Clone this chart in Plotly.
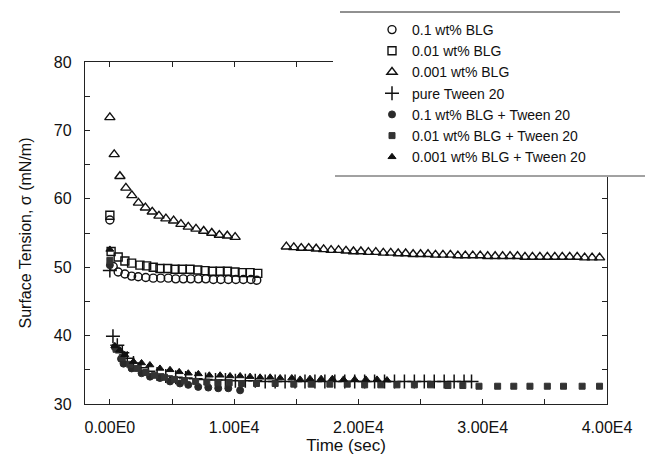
import plotly.graph_objects as go

# ---------------- data ----------------
t_blg01 = [0, 270, 670, 1210, 1750, 2280, 2890, 3490, 4090, 4700, 5300, 5910, 6510,
           7120, 7720, 8330, 8930, 9530, 10140, 10740, 11350, 11820]
s_blg01 = [56.9, 50.1, 49.3, 49.0, 48.7, 48.6, 48.5, 48.4, 48.4, 48.4, 48.3, 48.3,
           48.3, 48.3, 48.3, 48.2, 48.2, 48.2, 48.2, 48.2, 48.2, 48.1]

t_blg001 = [0, 100, 670, 1210, 1750, 2420, 2960, 3490, 4030, 4650, 5240, 5830, 6450,
            7070, 7660, 8250, 8870, 9460, 10070, 10660, 11280, 11900]
s_blg001 = [57.6, 52.3, 51.5, 50.9, 50.6, 50.3, 50.2, 50.0, 49.8, 49.8, 49.7, 49.7,
            49.7, 49.6, 49.5, 49.4, 49.4, 49.4, 49.3, 49.2, 49.2, 49.1]

t_blg0001 = [0, 350, 810, 1290, 1770, 2300, 2860, 3410, 3950, 4510, 5130, 5720, 6310,
             6930, 7550, 8200, 8810, 9450, 10080,
             14200, 14800, 15400, 16000, 16600, 17200, 17800, 18400, 19000, 19600,
             20200, 20800, 21400, 22000, 22600, 23200, 23800, 24400, 25000, 25600,
             26200, 26800, 27400, 28000, 28600, 29200, 29800, 30400, 31000, 31600,
             32200, 32800, 33400, 34000, 34600, 35200, 35800, 36400, 37000, 37600,
             38200, 38800, 39400]
s_blg0001 = [71.9, 66.5, 63.3, 61.6, 60.5, 59.4, 58.7, 58.1, 57.5, 57.1, 56.8, 56.3,
             55.9, 55.6, 55.3, 55.0, 54.7, 54.6, 54.4,
             53.0, 52.9, 52.8, 52.8, 52.7, 52.6, 52.5, 52.5, 52.4, 52.3, 52.3, 52.2,
             52.2, 52.1, 52.1, 52.0, 52.0, 51.9, 51.9, 51.9, 51.8, 51.8, 51.8, 51.7,
             51.7, 51.7, 51.7, 51.6, 51.6, 51.6, 51.6, 51.6, 51.5, 51.5, 51.5, 51.5,
             51.5, 51.5, 51.5, 51.5, 51.4, 51.4, 51.4]

t_tween = [0, 250, 600, 1000, 1400, 1900, 2500, 3100, 3800, 4500, 5300, 6100, 6900,
           7700, 8500, 9300, 10100, 10900, 11700, 12500, 13300, 14100, 14900, 15700,
           16500, 17300, 18100, 18900, 19700, 20500, 21300, 22100, 22900, 23700,
           24500, 25300, 26100, 26900, 27700, 28500, 29100]
s_tween = [49.5, 39.9, 38.6, 37.5, 36.7, 36.0, 35.3, 34.8, 34.4, 34.1, 33.9, 33.8,
           33.7, 33.6, 33.5, 33.5, 33.4, 33.4, 33.4, 33.3, 33.3, 33.3, 33.3, 33.3,
           33.3, 33.3, 33.3, 33.3, 33.3, 33.3, 33.3, 33.3, 33.3, 33.3, 33.3, 33.3,
           33.3, 33.3, 33.3, 33.3, 33.3]

t_mix01 = [0, 400, 900, 1100, 1750, 2550, 3230, 4030, 4840, 5640, 6310, 7110, 7920,
           8720, 9530, 10480]
s_mix01 = [50.3, 38.3, 36.6, 35.9, 35.2, 34.5, 34.0, 33.8, 33.3, 33.0, 32.8, 32.5,
           32.4, 32.3, 32.3, 32.0]

t_mix001 = [0, 500, 1000, 1600, 2200, 2900, 3600, 4400, 5200, 6000, 6900, 7800, 8700,
            9600, 10600, 11800, 13300, 14800, 16200, 17700, 19100, 20500, 21800,
            23100, 24500, 25800, 27200, 28400, 29700, 31200, 32500, 33800, 35200,
            36500, 38000, 39400]
s_mix001 = [51.0, 38.0, 36.8, 35.8, 35.2, 34.6, 34.2, 33.9, 33.6, 33.4, 33.3, 33.2,
            33.1, 33.1, 33.0, 33.0, 33.0, 32.9, 32.9, 32.9, 32.9, 32.8, 32.8, 32.8,
            32.8, 32.8, 32.7, 32.7, 32.6, 32.6, 32.6, 32.6, 32.6, 32.6, 32.6, 32.6]

t_mix0001 = [0, 400, 800, 1200, 1900, 2550, 3220, 4030, 4840, 5580, 6310, 7120, 8000,
             8870, 9670, 10480, 11280, 12090, 12900, 13700, 14640, 15310, 16100,
             17000, 17900, 18800, 19700, 20600, 21500, 22300]
s_mix0001 = [52.6, 38.5, 37.9, 37.2, 36.2, 36.0, 35.7, 35.2, 35.0, 34.7, 34.5, 34.4,
             34.2, 34.2, 34.1, 34.1, 34.0, 33.9, 33.9, 33.8, 33.8, 33.6, 33.7, 33.7,
             33.7, 33.6, 33.6, 33.6, 33.6, 33.5]

series_names = ["0.1 wt% BLG", "0.01 wt% BLG", "0.001 wt% BLG", "pure Tween 20",
                "0.1 wt% BLG + Tween 20", "0.01 wt% BLG + Tween 20",
                "0.001 wt% BLG + Tween 20"]

x_tickvals = [0, 5000, 10000, 15000, 20000, 25000, 30000, 35000, 40000]
x_ticktext = ["0.00E0", "", "1.00E4", "", "2.00E4", "", "3.00E4", "", "4.00E4"]
y_tickvals = [30, 35, 40, 45, 50, 55, 60, 65, 70, 75, 80]
y_ticktext = ["30", "", "40", "", "50", "", "60", "", "70", "", "80"]

# ---------------- figure ----------------
INK = "#111111"
FONT = "Liberation Sans, Arial, Helvetica, sans-serif"

fig = go.Figure()

def add(xs, ys, name, symbol, size, lw=1.4, color=INK):
    fig.add_trace(go.Scatter(
        x=xs, y=ys, mode="markers", name=name,
        marker=dict(symbol=symbol, size=size, color=color,
                    line=dict(color=color, width=lw)),
    ))

add(t_blg01, s_blg01, series_names[0], "circle-open", 8)
add(t_blg001, s_blg001, series_names[1], "square-open", 8)
add(t_blg0001, s_blg0001, series_names[2], "triangle-up-open", 9)
add(t_tween, s_tween, series_names[3], "cross-thin-open", 10, lw=1.5)
add(t_mix01, s_mix01, series_names[4], "circle", 7, lw=1, color="#2a2a2a")
add(t_mix001, s_mix001, series_names[5], "square", 6, lw=1, color="#333333")
add(t_mix0001, s_mix0001, series_names[6], "triangle-up", 7, lw=1)

L, R, T, B = 85, 38, 62, 51
W, H = 645, 455
pw, ph = W - L - R, H - T - B

def px2paper_x(p):
    return (p - L) / pw

def px2paper_y(p):
    return (H - B - p) / ph

shapes = [
    dict(type="rect", xref="paper", yref="paper", layer="above",
         x0=px2paper_x(333), x1=px2paper_x(646), y0=px2paper_y(177), y1=px2paper_y(11),
         fillcolor="white", line=dict(width=0)),
    dict(type="line", xref="paper", yref="paper", layer="above",
         x0=px2paper_x(340), x1=px2paper_x(620), y0=px2paper_y(12), y1=px2paper_y(12),
         line=dict(color="#222", width=1)),
    dict(type="line", xref="paper", yref="paper", layer="above",
         x0=px2paper_x(335), x1=px2paper_x(645), y0=px2paper_y(176), y1=px2paper_y(176),
         line=dict(color="#444", width=1)),
]

axis_common = dict(
    showline=True, linecolor="#222", linewidth=1.3, mirror="ticks",
    ticks="inside", ticklen=5, tickwidth=1, tickcolor="#222",
    showgrid=False, zeroline=False, automargin=False,
    tickfont=dict(family=FONT, size=16, color=INK),
)

fig.update_layout(
    width=W, height=H,
    margin=dict(l=L, r=R, t=T, b=B, pad=0),
    paper_bgcolor="white", plot_bgcolor="white",
    font=dict(family=FONT, color=INK),
    showlegend=True,
    legend=dict(x=px2paper_x(372), y=px2paper_y(14), xanchor="left", yanchor="top",
                bgcolor="rgba(0,0,0,0)", borderwidth=0,
                font=dict(family=FONT, size=14, color=INK),
                itemwidth=30, tracegroupgap=0),
    xaxis=dict(range=[-2000, 40000], tickmode="array", tickvals=x_tickvals,
               ticktext=x_ticktext, ticklabelstandoff=9,
               title=dict(text="Time (sec)", font=dict(family=FONT, size=17), standoff=4),
               **axis_common),
    yaxis=dict(range=[30, 80], tickmode="array", tickvals=y_tickvals,
               ticktext=y_ticktext, ticklabelstandoff=9,
               title=dict(text="Surface Tension, σ (mN/m)", font=dict(family=FONT, size=16),
                          standoff=18),
               **axis_common),
    shapes=shapes,
)

fig.write_html("out.html")
